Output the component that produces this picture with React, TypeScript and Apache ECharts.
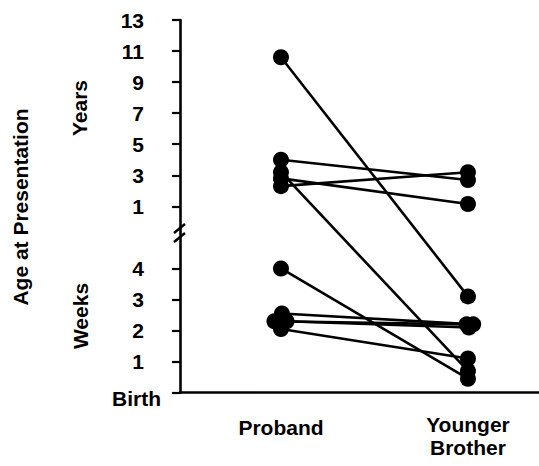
import React, { useEffect, useRef } from 'react';
import * as echarts from 'echarts';

// Categories on the x axis
const categories = ['Proband', 'Younger\nBrother'];
const categoryX = [1, 2];

// Tick labels of the broken y axis
const weekTicks = ['Birth', '1', '2', '3', '4'];
const yearTicks = ['1', '3', '5', '7', '9', '11', '13'];

// Each pair: proband age and younger brother's age ('y' = years, 'w' = weeks)
const probandAge = [10.6, 4.0, 3.2, 2.8, 2.3, 4.0, 2.55, 2.3, 2.3, 2.05];
const probandUnit = ['y', 'y', 'y', 'y', 'y', 'w', 'w', 'w', 'w', 'w'];
const probandJitter = [0, 0, 0, 0, 0, 0, 0.005, -0.035, 0.03, 0];

const brotherAge = [3.1, 2.7, 0.7, 1.15, 3.2, 0.45, 2.2, 2.2, 2.1, 1.1];
const brotherUnit = ['w', 'y', 'w', 'y', 'y', 'w', 'w', 'w', 'w', 'w'];
const brotherJitter = [0, 0, 0, 0, 0, 0, 0.028, -0.007, 0.005, 0];

// Axis slot mapping: weeks 0..4 occupy slots 0..4, slot 5 is the break, years 1..13 step 2 occupy 6..12
const toSlot = (v: number, unit: string) => (unit === 'w' ? v : 6 + (v - 1) / 2);
const tickSlots = [0, 1, 2, 3, 4, 6, 7, 8, 9, 10, 11, 12];

const FONT = '"Liberation Sans", Arial, Helvetica, sans-serif';

export default function App() {
  const ref = useRef<HTMLDivElement>(null);

  useEffect(() => {
    if (!ref.current) return;
    const chart = echarts.init(ref.current, undefined, { renderer: 'svg' });

    const lineSeries = probandAge.map((p, i) => ({
      type: 'line' as const,
      symbol: 'none',
      silent: true,
      z: 2,
      lineStyle: { color: '#000', width: 2.6, opacity: 1 },
      data: [
        [categoryX[0] + probandJitter[i], toSlot(p, probandUnit[i])],
        [categoryX[1] + brotherJitter[i], toSlot(brotherAge[i], brotherUnit[i])],
      ],
    }));

    const points: number[][] = [];
    probandAge.forEach((p, i) => {
      points.push([categoryX[0] + probandJitter[i], toSlot(p, probandUnit[i])]);
      points.push([categoryX[1] + brotherJitter[i], toSlot(brotherAge[i], brotherUnit[i])]);
    });

    const labelFor = (v: number) => {
      if (v === 0) return '{b|' + weekTicks[0] + '}';
      if (v <= 4) return '{n|' + weekTicks[v] + '}';
      return '{n|' + yearTicks[v - 6] + '}';
    };

    const boldText = { fontSize: 21, fontWeight: 'bold' as const, fontFamily: FONT, color: '#000' };

    chart.setOption({
      animation: false,
      backgroundColor: '#fff',
      grid: { left: 180, right: 0, top: 20, bottom: 73.3, containLabel: false },
      xAxis: {
        type: 'value',
        min: 0.46,
        max: 2.38,
        splitLine: { show: false },
        axisTick: { show: false },
        axisLine: { show: true, lineStyle: { color: '#000', width: 2.6 } },
        axisLabel: {
          customValues: categoryX,
          margin: 20,
          formatter: (v: number) =>
            v === categoryX[0]
              ? '{p|' + categories[0] + '}'
              : categories[1]
                  .split('\n')
                  .map((s) => '{q|' + s + '}')
                  .join('\n'),
          rich: {
            p: { ...boldText, lineHeight: 23, padding: [6, 0, 0, 0] },
            q: { ...boldText, lineHeight: 23 },
          },
        },
      },
      yAxis: {
        type: 'value',
        min: 0,
        max: 12,
        interval: 1,
        splitLine: { show: false },
        axisLine: { show: true, lineStyle: { color: '#000', width: 2.6 } },
        axisTick: {
          show: true,
          customValues: tickSlots,
          length: 8,
          lineStyle: { color: '#000', width: 2.2 },
        },
        axisLabel: {
          customValues: tickSlots,
          margin: 19,
          align: 'right',
          formatter: labelFor,
          rich: {
            n: { ...boldText, padding: [0, 17, 0, 0] },
            b: { ...boldText, padding: [11, 0, 0, 0] },
          },
        },
      },
      graphic: [
        {
          type: 'text',
          x: 20,
          y: 207,
          rotation: Math.PI / 2,
          style: {
            text: 'Age at Presentation',
            fill: '#000',
            font: 'bold 21px ' + FONT,
            align: 'center',
            verticalAlign: 'middle',
            textAlign: 'center',
            textVerticalAlign: 'middle',
          },
        },
        {
          type: 'text',
          x: 79,
          y: 108,
          rotation: Math.PI / 2,
          style: {
            text: 'Years',
            fill: '#000',
            font: 'bold 21px ' + FONT,
            align: 'center',
            verticalAlign: 'middle',
            textAlign: 'center',
            textVerticalAlign: 'middle',
          },
        },
        {
          type: 'text',
          x: 80,
          y: 316,
          rotation: Math.PI / 2,
          style: {
            text: 'Weeks',
            fill: '#000',
            font: 'bold 21px ' + FONT,
            align: 'center',
            verticalAlign: 'middle',
            textAlign: 'center',
            textVerticalAlign: 'middle',
          },
        },
        {
          type: 'line',
          z: 10,
          shape: { x1: 174, y1: 233, x2: 185, y2: 224 },
          style: { stroke: '#000', lineWidth: 2.4 },
        },
        {
          type: 'line',
          z: 10,
          shape: { x1: 174, y1: 242, x2: 185, y2: 233 },
          style: { stroke: '#000', lineWidth: 2.4 },
        },
      ],
      series: [
        ...lineSeries,
        {
          type: 'scatter',
          z: 3,
          symbol: 'circle',
          symbolSize: 16,
          itemStyle: { color: '#000', opacity: 1 },
          data: points,
        },
      ],
    });

    return () => chart.dispose();
  }, []);

  return (
    <div
      ref={ref}
      style={{ position: 'fixed', left: 0, top: 0, width: 539, height: 466, background: '#fff' }}
    />
  );
}
